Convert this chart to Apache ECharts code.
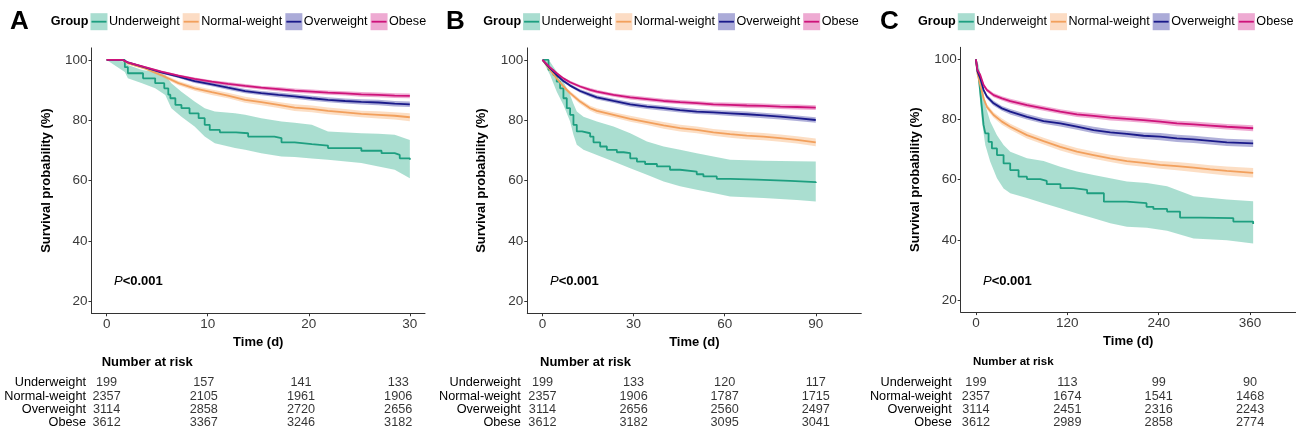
<!DOCTYPE html>
<html><head><meta charset="utf-8">
<script src="https://cdn.jsdelivr.net/npm/echarts@6/dist/echarts.min.js"></script>
<style>html,body{margin:0;padding:0;background:#fff}#c{width:1296px;height:433px}</style>
</head><body><div id="c"></div>
<script>
// ---------------- DATA ----------------
const groups = ['Underweight', 'Normal-weight', 'Overweight', 'Obese'];
const panelLetters = ['A', 'B', 'C'];
const yTicks = [20, 40, 60, 80, 100];
const xTicksA = [0, 10, 20, 30];
const xTicksB = [0, 30, 60, 90];
const xTicksC = [0, 120, 240, 360];
const pText = 'P';
const pValue = '<0.001';

// Panel A (30 days)
const uwA_t = [0, 1.8, 2.1, 3.6, 4.8, 5.7, 6.1, 6.3, 6.8, 7.4, 8.2, 9.1, 9.7, 10.2, 11.2, 12.8, 14, 16.6, 17.3, 18.6, 20.3, 21.9, 25.2, 27.2, 28.5, 29, 30];
const uwA_s = [100, 97.6, 95.6, 93.9, 92.3, 90.6, 88.5, 87.3, 85.1, 84, 82.3, 80.7, 78.5, 76.8, 76, 75.7, 74.6, 74.1, 72.7, 72.1, 71.6, 70.8, 69.9, 69.1, 68.5, 67.4, 66.9];
const uwA_bt = [0, 1.8, 2.1, 3.5, 4.8, 5.8, 6.4, 7.4, 8.7, 9.7, 10.7, 12.7, 13.7, 15.3, 17.3, 18.6, 20.3, 21.9, 25.2, 26.9, 28.5, 30];
const uwA_lo = [100, 96, 93.9, 92.3, 90.6, 88.4, 84, 81.2, 77.9, 74.6, 72.4, 70.8, 70.2, 69.1, 68, 67.8, 67.3, 66.9, 65.8, 64.7, 63.6, 60.8];
const uwA_hi = [100, 99.5, 98.3, 96.7, 96, 95, 92.3, 89.5, 86.2, 84, 82.9, 82.3, 81.8, 80.7, 79.6, 79.2, 78.5, 76.3, 75.7, 75.5, 75.2, 73.5];
const tA = [0, 1.6, 2.1, 3.8, 5.4, 7.1, 8.7, 10.4, 12, 13.7, 15.3, 17, 18.6, 20.3, 21.9, 23.6, 25.2, 26.9, 28.5, 30];
const nwA_s = [100, 100, 98.9, 97.2, 95, 92.3, 90.6, 89.3, 88.2, 86.8, 86, 85.1, 84.2, 83.8, 83.1, 82.6, 82.1, 81.8, 81.5, 81];
const nwA_lo = [100, 100, 98.6, 96.8, 94.4, 91.6, 89.8, 88.4, 87.3, 85.8, 85, 84.1, 83.1, 82.7, 82, 81.5, 81, 80.6, 80.3, 79.7];
const nwA_hi = [100, 100, 99.2, 97.6, 95.6, 93, 91.4, 90.2, 89.1, 87.8, 87, 86.1, 85.3, 84.9, 84.2, 83.7, 83.2, 83, 82.7, 82.3];
const owA_s = [100, 100, 99.2, 97.5, 95.9, 94.5, 93, 91.9, 90.8, 89.7, 89, 88.4, 87.9, 87.3, 86.8, 86.4, 86.1, 85.9, 85.5, 85.3];
const owA_lo = [100, 100, 99, 97.2, 95.5, 94, 92.4, 91.3, 90.1, 89, 88.3, 87.6, 87.1, 86.5, 86, 85.6, 85.2, 85, 84.6, 84.4];
const owA_hi = [100, 100, 99.4, 97.8, 96.3, 95, 93.6, 92.5, 91.5, 90.4, 89.7, 89.2, 88.7, 88.1, 87.6, 87.2, 87, 86.8, 86.4, 86.2];
const obA_s = [100, 100, 99.2, 97.6, 96.1, 94.8, 93.7, 92.8, 92.1, 91.4, 90.8, 90.3, 89.8, 89.5, 89.2, 88.9, 88.6, 88.4, 88.2, 88.1];
const obA_lo = [100, 100, 99, 97.3, 95.7, 94.4, 93.2, 92.3, 91.5, 90.8, 90.2, 89.6, 89.1, 88.8, 88.5, 88.2, 87.8, 87.6, 87.4, 87.3];
const obA_hi = [100, 100, 99.4, 97.9, 96.5, 95.2, 94.2, 93.3, 92.7, 92, 91.4, 91, 90.5, 90.2, 89.9, 89.6, 89.4, 89.2, 89, 88.9];
const riskA = [[199, 157, 141, 133], [2357, 2105, 1961, 1906], [3114, 2858, 2720, 2656], [3612, 3367, 3246, 3182]];

// Panel B (90 days)
const uwB_t = [0, 2, 3.6, 4.7, 5.8, 6.9, 8, 9.1, 10.2, 11.3, 13, 15.7, 16.8, 19, 21.2, 24.5, 26.7, 28.9, 31.1, 33.8, 37.7, 42, 45.3, 50.8, 53, 57.4, 61.8, 70.6, 81.6, 90];
const uwB_s = [100, 96.7, 95, 92.8, 90.6, 87.3, 84, 81.8, 78.5, 76.3, 75.7, 74.6, 72.7, 71.3, 70.2, 69.4, 69.1, 67.4, 66.3, 65.5, 64.7, 63.6, 63, 62.1, 61.4, 60.6, 60.3, 59.9, 59.5, 59.2];
const uwB_bt = [0, 2.5, 4.7, 6.9, 9.1, 10.2, 11.3, 13.5, 17.9, 23.4, 28.9, 34.4, 39.9, 45.3, 50.8, 56.3, 61.8, 72.8, 83.8, 90];
const uwB_lo = [100, 95, 89.5, 85.1, 79.6, 75.2, 71.9, 70.2, 68.5, 66.3, 64.1, 61.9, 59.7, 58.1, 57, 55.9, 54.7, 54.2, 53.6, 53.1];
const uwB_hi = [100, 99.4, 96.1, 92.8, 88.4, 85.5, 82.9, 81.2, 79.6, 77.9, 75.7, 73, 71.3, 70.2, 69.1, 68, 66.9, 66.6, 66.4, 66.3];
const tB = [0, 2.5, 4.7, 6.9, 9.1, 12.4, 15.7, 17.9, 23.4, 28.9, 34.4, 39.9, 45.3, 50.8, 56.3, 61.8, 67.3, 72.8, 78.3, 83.8, 90];
const nwB_s = [100, 96.7, 93.9, 91.2, 89, 86.2, 84, 83.1, 81.8, 80.5, 79.4, 78.3, 77.4, 76.8, 76, 75.4, 74.9, 74.6, 74.1, 73.5, 72.7];
const nwB_lo = [100, 96.3, 93.4, 90.6, 88.3, 85.4, 83.2, 82.2, 80.9, 79.5, 78.4, 77.2, 76.3, 75.7, 74.9, 74.2, 73.7, 73.4, 72.9, 72.3, 71.4];
const nwB_hi = [100, 97.1, 94.4, 91.8, 89.7, 87, 84.8, 84, 82.7, 81.5, 80.4, 79.4, 78.5, 77.9, 77.1, 76.6, 76.1, 75.8, 75.3, 74.7, 74];
const owB_s = [100, 97.2, 95, 93, 91.5, 89.7, 88.4, 87.6, 86.4, 85.3, 84.5, 84, 83.4, 82.9, 82.6, 82.3, 82, 81.6, 81.2, 80.7, 80.1];
const owB_lo = [100, 96.9, 94.6, 92.5, 91, 89.1, 87.7, 86.9, 85.7, 84.5, 83.7, 83.2, 82.6, 82.1, 81.8, 81.4, 81.1, 80.7, 80.3, 79.8, 79.2];
const owB_hi = [100, 97.5, 95.4, 93.5, 92, 90.3, 89.1, 88.3, 87.1, 86.1, 85.3, 84.8, 84.2, 83.7, 83.4, 83.2, 82.9, 82.5, 82.1, 81.6, 81];
const obB_s = [100, 97.5, 95.6, 93.9, 92.6, 91.2, 90.1, 89.5, 88.4, 87.6, 87, 86.4, 86, 85.7, 85.3, 85.1, 84.9, 84.8, 84.5, 84.4, 84.2];
const obB_lo = [100, 97.2, 95.2, 93.5, 92.1, 90.7, 89.5, 88.9, 87.8, 86.9, 86.3, 85.7, 85.3, 85, 84.6, 84.3, 84.1, 84, 83.7, 83.6, 83.4];
const obB_hi = [100, 97.8, 96, 94.3, 93.1, 91.7, 90.7, 90.1, 89, 88.3, 87.7, 87.1, 86.7, 86.4, 86, 85.9, 85.7, 85.6, 85.3, 85.2, 85];
const riskB = [[199, 133, 120, 117], [2357, 1906, 1787, 1715], [3114, 2656, 2560, 2497], [3612, 3182, 3095, 3041]];

// Panel C (360 days)
const uwC_t = [0, 1.5, 3.5, 5.7, 7.9, 10, 12.3, 16.6, 21, 27.6, 36.3, 45, 56, 67, 84.5, 93, 111, 128, 146, 168, 198, 224, 233, 251, 268, 295, 338, 364];
const uwC_s = [100, 97, 94.8, 89.2, 83.7, 78.2, 75.4, 72.6, 70.4, 68.2, 65.4, 63.2, 61, 60.2, 59.6, 58.5, 57.2, 56.6, 55.5, 52.7, 52.2, 51, 50.3, 49.4, 47.4, 47.2, 46.1, 45.3];
const uwC_bt = [0, 3.5, 7.9, 12.3, 18.8, 27.6, 36.3, 45.1, 67, 88.8, 110.7, 132.6, 154.5, 176.4, 198.2, 224.5, 251, 285.8, 329.5, 364];
const uwC_lo = [100, 91.5, 79.3, 71.5, 66, 60.5, 57.1, 55.5, 53.9, 52.2, 50.5, 48.8, 47.2, 45.5, 44.4, 44, 43, 40.5, 39.9, 38.8];
const uwC_hi = [100, 98.1, 92.6, 84.8, 79.3, 74.8, 71.5, 69.3, 67.1, 66.2, 64.3, 62.7, 61.6, 60.5, 59.4, 58.9, 57.8, 54.5, 53.4, 52.8];
const tC = [0, 2, 5.7, 10.1, 14.4, 23.2, 34.1, 45.1, 67, 88.8, 110.7, 132.6, 154.5, 176.4, 198.2, 220.1, 242, 263.9, 285.8, 307.7, 329.5, 364];
const nwC_s = [100, 95.3, 91.5, 87, 84.2, 81.5, 79.3, 77.6, 74.8, 72.8, 70.9, 69.3, 68.2, 67.1, 66.2, 65.6, 64.9, 64.5, 64, 63.4, 62.9, 62.3];
const nwC_lo = [100, 94.8, 90.8, 86.2, 83.3, 80.6, 78.3, 76.6, 73.7, 71.7, 69.7, 68.1, 67, 65.9, 64.9, 64.3, 63.6, 63.1, 62.6, 62, 61.4, 60.7];
const nwC_hi = [100, 95.8, 92.2, 87.8, 85.1, 82.4, 80.3, 78.6, 75.9, 73.9, 72.1, 70.5, 69.4, 68.3, 67.5, 66.9, 66.2, 65.9, 65.4, 64.8, 64.4, 63.9];
const owC_s = [100, 96, 93.7, 89.8, 87.6, 85.4, 83.7, 82.6, 80.9, 79.5, 78.7, 77.6, 76.5, 75.7, 75.2, 74.6, 74.3, 73.7, 73.4, 72.9, 72.4, 72.1];
const owC_lo = [100, 95.6, 93.2, 89.2, 86.9, 84.6, 82.9, 81.7, 80, 78.6, 77.7, 76.6, 75.4, 74.6, 74.1, 73.5, 73.1, 72.5, 72.2, 71.7, 71.2, 70.9];
const owC_hi = [100, 96.4, 94.2, 90.4, 88.3, 86.2, 84.5, 83.5, 81.8, 80.4, 79.7, 78.6, 77.6, 76.8, 76.3, 75.7, 75.5, 74.9, 74.6, 74.1, 73.6, 73.3];
const obC_s = [100, 96.5, 94.8, 91.5, 89.8, 88.1, 87, 86.1, 84.8, 83.7, 82.6, 81.7, 81.2, 80.6, 80.2, 79.8, 79.3, 78.7, 78.4, 78, 77.6, 77.1];
const obC_lo = [100, 96.2, 94.4, 91, 89.2, 87.4, 86.3, 85.3, 84, 82.9, 81.8, 80.8, 80.3, 79.7, 79.3, 78.9, 78.4, 77.8, 77.5, 77.1, 76.7, 76.1];
const obC_hi = [100, 96.8, 95.2, 92, 90.4, 88.8, 87.7, 86.9, 85.6, 84.5, 83.4, 82.6, 82.1, 81.5, 81.1, 80.7, 80.2, 79.6, 79.3, 78.9, 78.5, 78.1];
const riskC = [[199, 113, 99, 90], [2357, 1674, 1541, 1468], [3114, 2451, 2316, 2243], [3612, 2989, 2858, 2774]];

// ---------------- STYLE / LAYOUT ----------------
const FONT = '"Liberation Sans", Arial, Helvetica, sans-serif';
const lineColors = ['#1E9F80', '#F2A05D', '#1A1A8A', '#CE137A'];
const bandColors = ['#1FA884', '#F5A056', '#3A3AA0', '#D4208A'];
const bandOpacity = [0.38, 0.35, 0.4, 0.38];
const legendKeyFill = ['#A9DDD0', '#FCDCC4', '#ABABD8', '#EEAAD2'];

const panels = [
  { letter: 0, ticks: xTicksA, min: -1.5, max: 31.5, plot: { left: 91.5, top: 47.9, width: 333.5, height: 265.4 },
    table: { left: 92, width: 320.8, min: -1.5, max: 31.5, labelMargin: 6 }, risk: riskA,
    letterX: 10, legendX: 50.7, pX: 114, nrX: 101.7, nrSize: 13,
    uw: [uwA_t, uwA_s, uwA_bt, uwA_lo, uwA_hi], t: tA,
    others: [[nwA_s, nwA_lo, nwA_hi], [owA_s, owA_lo, owA_hi], [obA_s, obA_lo, obA_hi]] },
  { letter: 1, ticks: xTicksB, min: -5, max: 105, plot: { left: 527.3, top: 47.9, width: 334, height: 265.4 },
    table: { left: 527.3, width: 334, min: -5, max: 105, labelMargin: 6.5 }, risk: riskB,
    letterX: 446, legendX: 483.3, pX: 550, nrX: 540, nrSize: 13,
    uw: [uwB_t, uwB_s, uwB_bt, uwB_lo, uwB_hi], t: tB,
    others: [[nwB_s, nwB_lo, nwB_hi], [owB_s, owB_lo, owB_hi], [obB_s, obB_lo, obB_hi]] },
  { letter: 2, ticks: xTicksC, min: -20, max: 420, plot: { left: 960.7, top: 47.3, width: 335.1, height: 264.8 },
    table: { left: 960.7, width: 335.1, min: -20, max: 420, labelMargin: 9 }, risk: riskC,
    letterX: 880, legendX: 918, pX: 983, nrX: 973, nrSize: 11.5,
    uw: [uwC_t, uwC_s, uwC_bt, uwC_lo, uwC_hi], t: tC,
    others: [[nwC_s, nwC_lo, nwC_hi], [owC_s, owC_lo, owC_hi], [obC_s, obC_lo, obC_hi]] }
];

const grids = [], xAxes = [], yAxes = [], series = [], graphics = [];
const axisCol = '#333333';

panels.forEach((p, k) => {
  grids.push(Object.assign({ outerBoundsMode: 'none' }, p.plot));
  xAxes.push({
    type: 'value', gridIndex: k, min: p.min, max: p.max,
    name: 'Time (d)', nameLocation: 'middle', nameGap: 15,
    nameTextStyle: { fontFamily: FONT, fontWeight: 'bold', fontSize: 13, color: '#000' },
    axisLine: { show: true, onZero: false, lineStyle: { color: axisCol, width: 1 } },
    axisTick: { show: true, length: 3, customValues: p.ticks, lineStyle: { color: axisCol } },
    axisLabel: { customValues: p.ticks, margin: 4, fontFamily: FONT, fontSize: 13.5, color: '#3a3a3a' },
    splitLine: { show: false }
  });
  yAxes.push({
    type: 'value', gridIndex: k, min: 16, max: 104,
    name: 'Survival probability (%)', nameLocation: 'middle', nameGap: 39,
    nameTextStyle: { fontFamily: FONT, fontWeight: 'bold', fontSize: 13, color: '#000' },
    axisLine: { show: true, onZero: false, lineStyle: { color: axisCol, width: 1 } },
    axisTick: { show: true, length: 3, customValues: yTicks, lineStyle: { color: axisCol } },
    axisLabel: { customValues: yTicks, margin: 4, fontFamily: FONT, fontSize: 13.5, color: '#3a3a3a' },
    splitLine: { show: false }
  });
});

panels.forEach((p, k) => {
  const gi = 3 + k;
  grids.push({ outerBoundsMode: 'none', left: p.table.left, width: p.table.width, top: 376.3, height: 53.2 });
  xAxes.push({ type: 'value', gridIndex: gi, min: p.table.min, max: p.table.max, show: false });
  yAxes.push({
    type: 'category', gridIndex: gi, data: groups, inverse: true,
    axisLine: { show: false }, axisTick: { show: false }, splitLine: { show: false },
    axisLabel: { interval: 0, margin: p.table.labelMargin, fontFamily: FONT, fontSize: 12.7, color: '#000' }
  });
  const tdata = [];
  groups.forEach((g, gi2) => p.ticks.forEach((t, j) => tdata.push([t, g, p.risk[gi2][j]])));
  series.push({
    type: 'scatter', xAxisIndex: gi, yAxisIndex: gi, data: tdata, symbolSize: 1,
    itemStyle: { color: 'rgba(0,0,0,0)' }, silent: true,
    label: { show: true, position: 'inside', formatter: (q) => String(q.data[2]),
             fontFamily: FONT, fontSize: 12.7, color: '#000' }
  });
});

// confidence band as one polygon drawn through the axis scales
function bandRenderer(bt, lo, hi, color, opacity) {
  return function (params, api) {
    if (params.dataIndex !== 0) return null;
    const top = [], bot = [];
    for (let i = 0; i < bt.length; i++) {
      top.push(api.coord([bt[i], hi[i]]));
      bot.push(api.coord([bt[i], lo[i]]));
    }
    const pts = top.concat(bot.slice().reverse());
    return { type: 'polygon', shape: { points: pts }, style: { fill: color, opacity: opacity } };
  };
}

function addGroup(k, gIdx, t, s, bt, lo, hi, step) {
  series.push({
    type: 'custom', xAxisIndex: k, yAxisIndex: k, silent: true, z: 1,
    data: bt.map((x, i) => [x, lo[i], hi[i]]), encode: { x: 0, y: [1, 2] },
    renderItem: bandRenderer(bt, lo, hi, bandColors[gIdx], bandOpacity[gIdx])
  });
  series.push({
    type: 'line', name: groups[gIdx], xAxisIndex: k, yAxisIndex: k, step: step,
    data: t.map((x, i) => [x, s[i]]), symbol: 'none', silent: true,
    lineStyle: { color: lineColors[gIdx], width: 1.8 }, itemStyle: { color: lineColors[gIdx] }, z: 3
  });
}

panels.forEach((p, k) => {
  const [ut, us, ubt, ulo, uhi] = p.uw;
  addGroup(k, 0, ut, us, ubt, ulo, uhi, 'end');
  p.others.forEach((o, j) => addGroup(k, j + 1, p.t, o[0], p.t, o[1], o[2], false));
});

// ---------------- GRAPHICS ----------------
const mctx = document.createElement('canvas').getContext('2d');
function tw(text, font) { mctx.font = font; return mctx.measureText(text).width; }
const LEG_SIZE = 12.6;
panels.forEach((p, k) => {
  graphics.push({ type: 'text', x: p.letterX, y: 22, style: { text: panelLetters[p.letter], fontFamily: FONT, fontWeight: 'bold', fontSize: 26, fill: '#000', verticalAlign: 'middle' } });
  let x = p.legendX;
  const yc = 21.7;
  graphics.push({ type: 'text', x: x, y: yc, style: { text: 'Group', fontFamily: FONT, fontWeight: 'bold', fontSize: LEG_SIZE, fill: '#000', verticalAlign: 'middle' } });
  x += tw('Group', 'bold ' + LEG_SIZE + 'px ' + FONT) + 2;
  groups.forEach((g, gi) => {
    graphics.push({ type: 'rect', shape: { x: x, y: yc - 8.5, width: 17, height: 17 }, style: { fill: legendKeyFill[gi] } });
    graphics.push({ type: 'line', shape: { x1: x + 1, y1: yc, x2: x + 16, y2: yc }, style: { stroke: lineColors[gi], lineWidth: 1.8 } });
    x += 17 + 1.5;
    graphics.push({ type: 'text', x: x, y: yc, style: { text: g, fontFamily: FONT, fontSize: LEG_SIZE, fill: '#000', verticalAlign: 'middle' } });
    x += tw(g, LEG_SIZE + 'px ' + FONT) + 3;
  });
  graphics.push({ type: 'text', x: p.pX, y: 281, style: {
    text: '{i|' + pText + '}{b|' + pValue + '}', verticalAlign: 'middle',
    rich: { i: { fontFamily: FONT, fontStyle: 'italic', fontSize: 13, fill: '#000' }, b: { fontFamily: FONT, fontWeight: 'bold', fontSize: 13, fill: '#000' } } } });
  graphics.push({ type: 'text', x: p.nrX, y: 362, style: { text: 'Number at risk', fontFamily: FONT, fontWeight: 'bold', fontSize: p.nrSize, fill: '#000', verticalAlign: 'middle' } });
});

const chart = echarts.init(document.getElementById('c'), null, { renderer: 'canvas' });
chart.setOption({
  animation: false,
  backgroundColor: '#fff',
  grid: grids, xAxis: xAxes, yAxis: yAxes, series: series,
  graphic: graphics
});
</script></body></html>
